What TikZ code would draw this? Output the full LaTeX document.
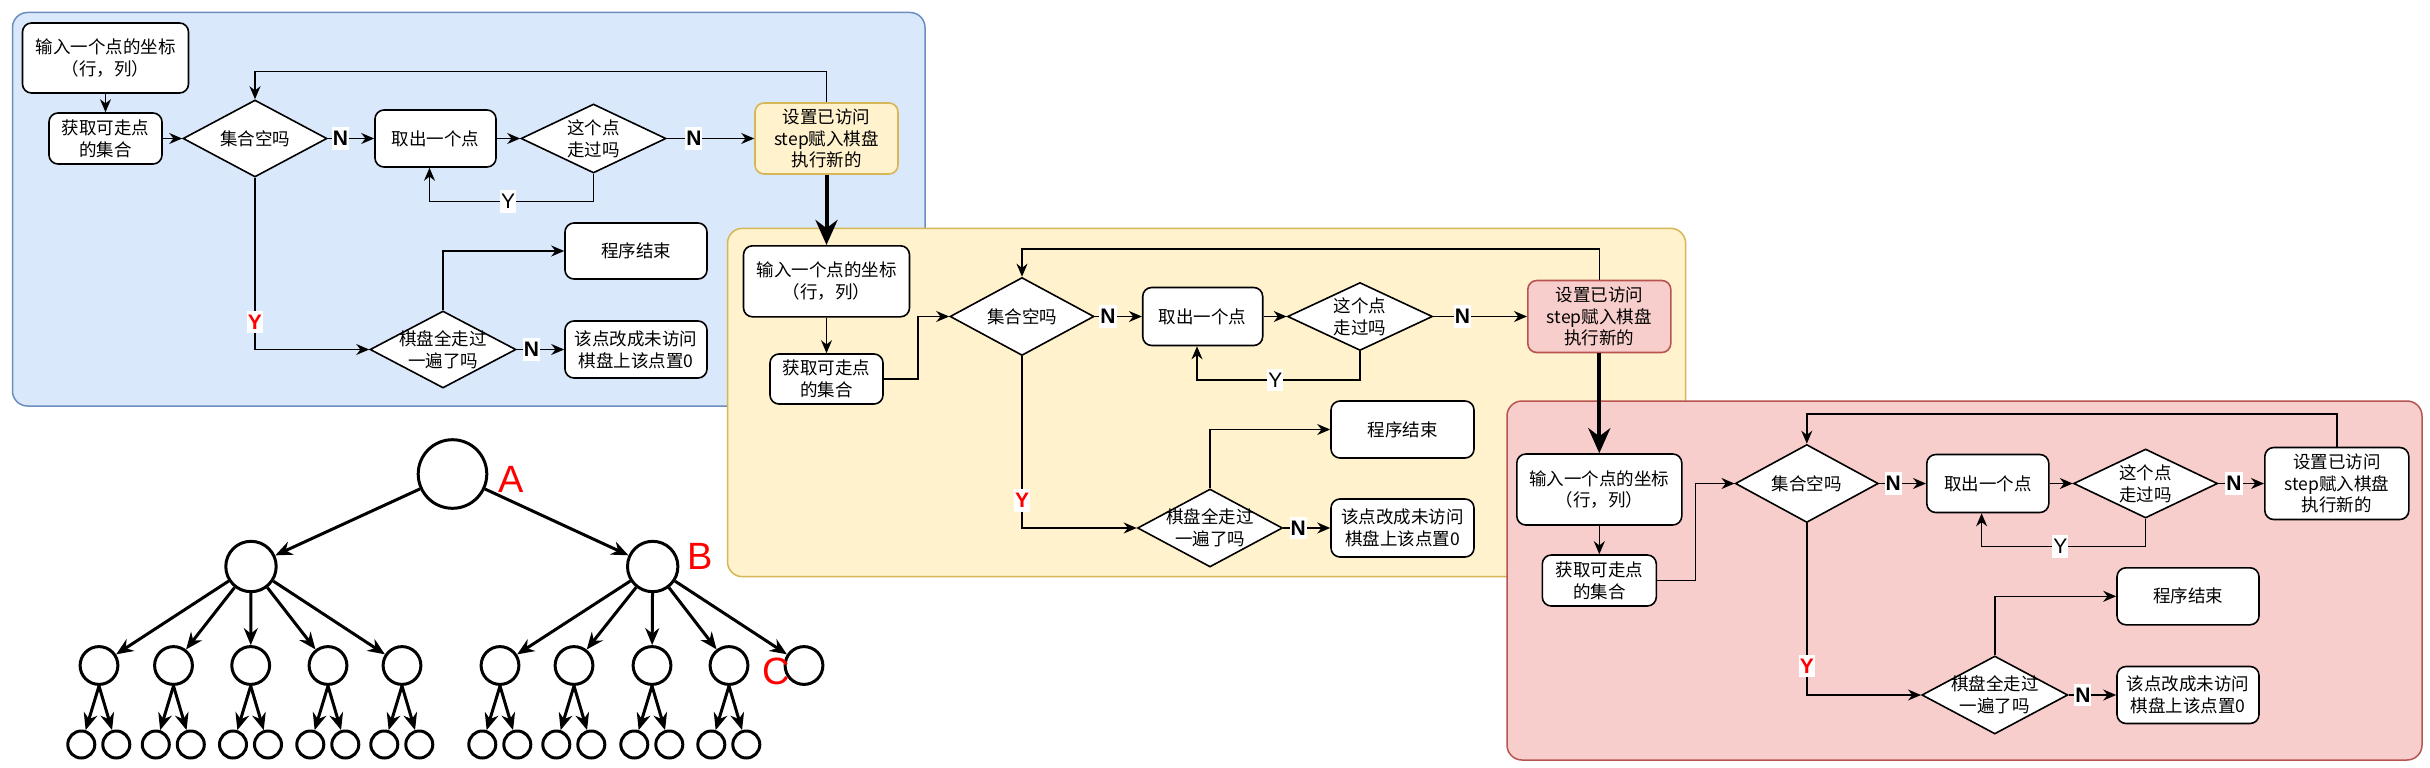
\documentclass[tikz,border=0pt]{standalone}
\usepackage{fontspec}
\setmainfont{Noto Sans CJK SC}
\newfontfamily\labfont{Liberation Sans}
\usetikzlibrary{arrows.meta,shapes.geometric,calc}
\definecolor{bFill}{HTML}{DAE8FC}
\definecolor{bDraw}{HTML}{6C8EBF}
\definecolor{yFill}{HTML}{FFF2CC}
\definecolor{yDraw}{HTML}{D6B656}
\definecolor{rFill}{HTML}{F8CECC}
\definecolor{rDraw}{HTML}{B85450}
\definecolor{tRed}{HTML}{FF0000}
\begin{document}
\begin{tikzpicture}[x=1pt,y=-1pt,
  panel/.style={line width=1.5pt, rounded corners=15pt},
  box/.style={draw=black, fill=white, rounded corners=9pt, line width=1.6pt, align=center, inner sep=0pt,
    font=\fontsize{17.5}{21.7}\selectfont},
  sz/.style 2 args={minimum width=#1pt, minimum height=#2pt},
  dia/.style={diamond, draw=black, fill=white, line width=1.6pt, inner sep=0pt},
  dtext/.style={align=center, inner sep=0pt, font=\fontsize{17.5}{21.7}\selectfont},
  arr/.style={-{Stealth[length=13pt,width=11pt]}, line width=1.5pt},
  bigarr/.style={-{Stealth[length=25pt,width=22pt]}, line width=4pt},
  nlab/.style={fill=white, inner xsep=1pt, inner ysep=4pt, font=\labfont\bfseries\fontsize{21}{21}\selectfont},
  ylab/.style={fill=white, inner xsep=1pt, inner ysep=4pt, font=\labfont\fontsize{21}{21}\selectfont},
  redy/.style={fill=white, text=tRed, inner xsep=1pt, inner ysep=4pt, font=\labfont\bfseries\fontsize{21}{21}\selectfont},
  tn/.style={circle, draw=black, fill=white, line width=3pt, inner sep=0pt, minimum size=#1pt},
  tarr/.style={-{Stealth[length=17pt,width=14pt]}, line width=3pt},
  tlab/.style={text=tRed, inner sep=0pt, font=\labfont\fontsize{38}{38}\selectfont}
]
\useasboundingbox (0,0) rectangle (2430,768);
\fill[white] (0,0) rectangle (2430,768);

% ===================== BLUE PANEL =====================
\draw[panel, draw=bDraw, fill=bFill] (12.5,12.5) rectangle (925,406);
\node[box, sz={166}{70}] (bIn) at (105.5,58) {输入一个点的坐标\\（行，列）};
\node[box, sz={113}{51}] (bGet) at (105.5,138.5) {获取可走点\\的集合};
\node[dia, sz={144}{77}] (bEmpty) at (255,138.5) {};
\node[dtext] (bEmptyT) at (bEmpty) {集合空吗};
\node[box, sz={121}{57}] (bTake) at (435.5,138.5) {取出一个点};
\node[dia, sz={145}{69}] (bVis) at (593.5,138.5) {};
\node[dtext] (bVisT) at (bVis) {这个点\\走过吗};
\node[box, sz={143}{71}, fill=yFill, draw=yDraw] (bSet) at (826.5,138.5) {设置已访问\\step赋入棋盘\\执行新的};
\node[box, sz={142}{56}] (bEnd) at (636,251) {程序结束};
\node[dia, sz={146}{77}] (bAll) at (443,349.5) {};
\node[dtext] (bAllT) at (bAll) {棋盘全走过\\一遍了吗};
\node[box, sz={142}{57}] (bReset) at (636,349.5) {该点改成未访问\\棋盘上该点置0};
\coordinate (bYc) at (429.5,201.7);

\draw[arr] (bIn) -- (bGet);
\draw[arr] (bGet) -- (bEmpty);
\draw[arr] (bEmpty) -- node[nlab, pos=0.27] (bN1) {N} (bTake);
\draw[arr] (bTake) -- (bVis);
\draw[arr] (bVis) -- node[nlab, pos=0.31] (bN2) {N} (bSet);
\draw[arr] (bVis.south) |- node[ylab, pos=0.76] (bY1) {Y} (bYc) -- (bYc |- bTake.south);
\draw[arr] (bSet.north) -- ++(0,-30.8) -| (bEmpty.north);
\draw[arr] (bEmpty.south) |- node[redy, pos=0.42] (bY2) {Y} (bAll.west);
\draw[arr] (bAll.north) |- (bEnd.west);
\draw[arr] (bAll) -- node[nlab, pos=0.31] (bN3) {N} (bReset);

% ===================== YELLOW PANEL =====================
\draw[panel, draw=yDraw, fill=yFill] (727.5,228.3) rectangle (1685.6,576.7);
\node[box, sz={166}{71}] (yIn) at (826.5,281.3) {输入一个点的坐标\\（行，列）};
\node[box, sz={113}{50}] (yGet) at (826.5,379) {获取可走点\\的集合};
\node[dia, sz={144}{78}] (yEmpty) at (1022,316.5) {};
\node[dtext] (yEmptyT) at (yEmpty) {集合空吗};
\node[box, sz={120}{58}] (yTake) at (1202.7,316.5) {取出一个点};
\node[dia, sz={145}{68}] (yVis) at (1360,316.5) {};
\node[dtext] (yVisT) at (yVis) {这个点\\走过吗};
\node[box, sz={143}{72}, fill=rFill, draw=rDraw] (ySet) at (1599.3,316.5) {设置已访问\\step赋入棋盘\\执行新的};
\node[box, sz={143}{57}] (yEnd) at (1402.5,429.5) {程序结束};
\node[dia, sz={145}{78}] (yAll) at (1210,528) {};
\node[dtext] (yAllT) at (yAll) {棋盘全走过\\一遍了吗};
\node[box, sz={143}{58}] (yReset) at (1402.5,528) {该点改成未访问\\棋盘上该点置0};
\coordinate (yYc) at (1197,380);

\draw[bigarr] (bSet.south) -- (yIn.north);
\draw[arr] (yIn) -- (yGet);
\draw[arr] (yGet.east) -- ++(34,0) |- (yEmpty.west);
\draw[arr] (yEmpty) -- node[nlab, pos=0.28] (yN1) {N} (yTake);
\draw[arr] (yTake) -- (yVis);
\draw[arr] (yVis) -- node[nlab, pos=0.31] (yN2) {N} (ySet);
\draw[arr] (yVis.south) |- node[ylab, pos=0.76] (yY1) {Y} (yYc) -- (yYc |- yTake.south);
\draw[arr] (ySet.north) -- ++(0,-30.5) -| (yEmpty.north);
\draw[arr] (yEmpty.south) |- node[redy, pos=0.42] (yY2) {Y} (yAll.west);
\draw[arr] (yAll.north) |- (yEnd.west);
\draw[arr] (yAll) -- node[nlab, pos=0.32] (yN3) {N} (yReset);

% ===================== RED PANEL =====================
\draw[panel, draw=rDraw, fill=rFill] (1507,401) rectangle (2422,760);
\node[box, sz={165}{71}] (rIn) at (1599.3,489.5) {输入一个点的坐标\\（行，列）};
\node[box, sz={114}{51}] (rGet) at (1599.3,580.5) {获取可走点\\的集合};
\node[dia, sz={143}{78}] (rEmpty) at (1806.8,483.5) {};
\node[dtext] (rEmptyT) at (rEmpty) {集合空吗};
\node[box, sz={122}{58}] (rTake) at (1987.8,483.5) {取出一个点};
\node[dia, sz={144}{69}] (rVis) at (2145.6,483.5) {};
\node[dtext] (rVisT) at (rVis) {这个点\\走过吗};
\node[box, sz={144}{72}] (rSet) at (2336.8,483.5) {设置已访问\\step赋入棋盘\\执行新的};
\node[box, sz={142}{57}] (rEnd) at (2188,596.3) {程序结束};
\node[dia, sz={146}{78}] (rAll) at (1994.8,695) {};
\node[dtext] (rAllT) at (rAll) {棋盘全走过\\一遍了吗};
\node[box, sz={142}{57}] (rReset) at (2188,695) {该点改成未访问\\棋盘上该点置0};
\coordinate (rYc) at (1981.6,546.7);

\draw[bigarr] (ySet.south) -- (rIn.north);
\draw[arr] (rIn) -- (rGet);
\draw[arr] (rGet.east) -- ++(38.5,0) |- (rEmpty.west);
\draw[arr] (rEmpty) -- node[nlab, pos=0.3] (rN1) {N} (rTake);
\draw[arr] (rTake) -- (rVis);
\draw[arr] (rVis) -- node[nlab, pos=0.34] (rN2) {N} (rSet);
\draw[arr] (rVis.south) |- node[ylab, pos=0.76] (rY1) {Y} (rYc) -- (rYc |- rTake.south);
\draw[arr] (rSet.north) -- ++(0,-32.5) -| (rEmpty.north);
\draw[arr] (rEmpty.south) |- node[redy, pos=0.415] (rY2) {Y} (rAll.west);
\draw[arr] (rAll.north) |- (rEnd.west);
\draw[arr] (rAll) -- node[nlab, pos=0.3] (rN3) {N} (rReset);

% ===================== TREE =====================
\node[tn=68.6] (tA) at (452.5,474) {};
\node[tn=50.4] (tL) at (251,566.5) {};
\node[tn=50.4] (tB) at (652.7,566.5) {};
\draw[tarr] (tA) -- (tL);
\draw[tarr] (tA) -- (tB);
\foreach \i/\x in {1/99,2/173.5,3/250.7,4/328,5/402,6/500,7/574,8/652,9/729,10/804}{
  \node[tn=37.8] (t\i) at (\x,665.5) {};
}
\foreach \i in {1,...,5}{ \draw[tarr] (tL) -- (t\i); }
\foreach \i in {6,...,10}{ \draw[tarr] (tB) -- (t\i); }
\foreach \i/\x in {1/99,2/173.5,3/250.7,4/328,5/402,6/500,7/574,8/652,9/729}{
  \node[tn=27] (l\i a) at (\x-17.7,744.5) {};
  \node[tn=27] (l\i b) at (\x+17.3,744.5) {};
  \draw[tarr] (t\i.south) -- (l\i a);
  \draw[tarr] (t\i.south) -- (l\i b);
}
\node[tlab] (tAl) at (511,479) {A};
\node[tlab] (tBl) at (700,556.5) {B};
\node[tlab] (tCl) at (776.5,671.5) {C};
\end{tikzpicture}
\end{document}
